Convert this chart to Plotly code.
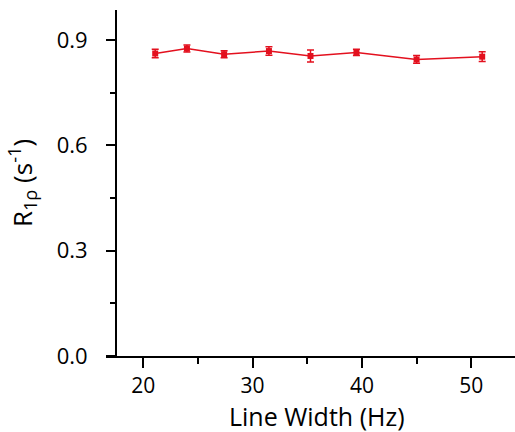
import plotly.graph_objects as go

# Relaxation rate vs. line width
line_width_hz = [21.1, 24.0, 27.4, 31.5, 35.3, 39.5, 45.0, 51.0]
r1rho = [0.862, 0.876, 0.860, 0.869, 0.855, 0.865, 0.845, 0.853]
r1rho_err = [0.012, 0.010, 0.010, 0.012, 0.017, 0.009, 0.011, 0.014]

y_ticks = [0.0, 0.3, 0.6, 0.9]
x_ticks = [20, 30, 40, 50]

RED = "#e3101e"
FONT = "Open Sans"

fig = go.Figure()
fig.add_trace(go.Scatter(
    x=line_width_hz, y=r1rho,
    mode="lines+markers",
    line=dict(color=RED, width=1.5),
    marker=dict(color=RED, size=6, symbol="square"),
    error_y=dict(type="data", array=r1rho_err, visible=True,
                 color=RED, thickness=1.5, width=3.5),
    showlegend=False,
))

fig.update_layout(
    width=515, height=432,
    margin=dict(l=106, r=0, t=10, b=76),
    plot_bgcolor="white", paper_bgcolor="white",
    font=dict(family=FONT, size=22, color="black"),
    xaxis=dict(
        range=[16.6, 54.0],
        tickvals=x_ticks,
        tickfont=dict(size=21),
        showline=True, linecolor="black", linewidth=2,
        ticks="outside", ticklen=10, tickwidth=2, tickcolor="black",
        minor=dict(dtick=5, tick0=0, ticks="outside", ticklen=6,
                   tickwidth=2, tickcolor="black"),
        showgrid=False, zeroline=False,
    ),
    yaxis=dict(
        range=[0, 0.986],
        tickvals=y_ticks,
        tickformat=".1f",
        anchor="free", position=0.0244,
        showline=True, linecolor="black", linewidth=2,
        ticks="outside", ticklen=9, tickwidth=2, tickcolor="black",
        ticklabelstandoff=14,
        minor=dict(dtick=0.15, tick0=0, ticks="outside", ticklen=5,
                   tickwidth=2, tickcolor="black"),
        showgrid=False, zeroline=False,
        title=dict(text="R<sub>1ρ</sub> (s<sup>-1</sup>)", font=dict(size=26),
                   standoff=16),
    ),
    annotations=[dict(
        text="Line Width (Hz)", font=dict(size=25),
        xref="paper", yref="paper", x=0.515, y=-0.172,
        xanchor="center", yanchor="middle", showarrow=False,
    )],
)

fig.write_html("out.html")
